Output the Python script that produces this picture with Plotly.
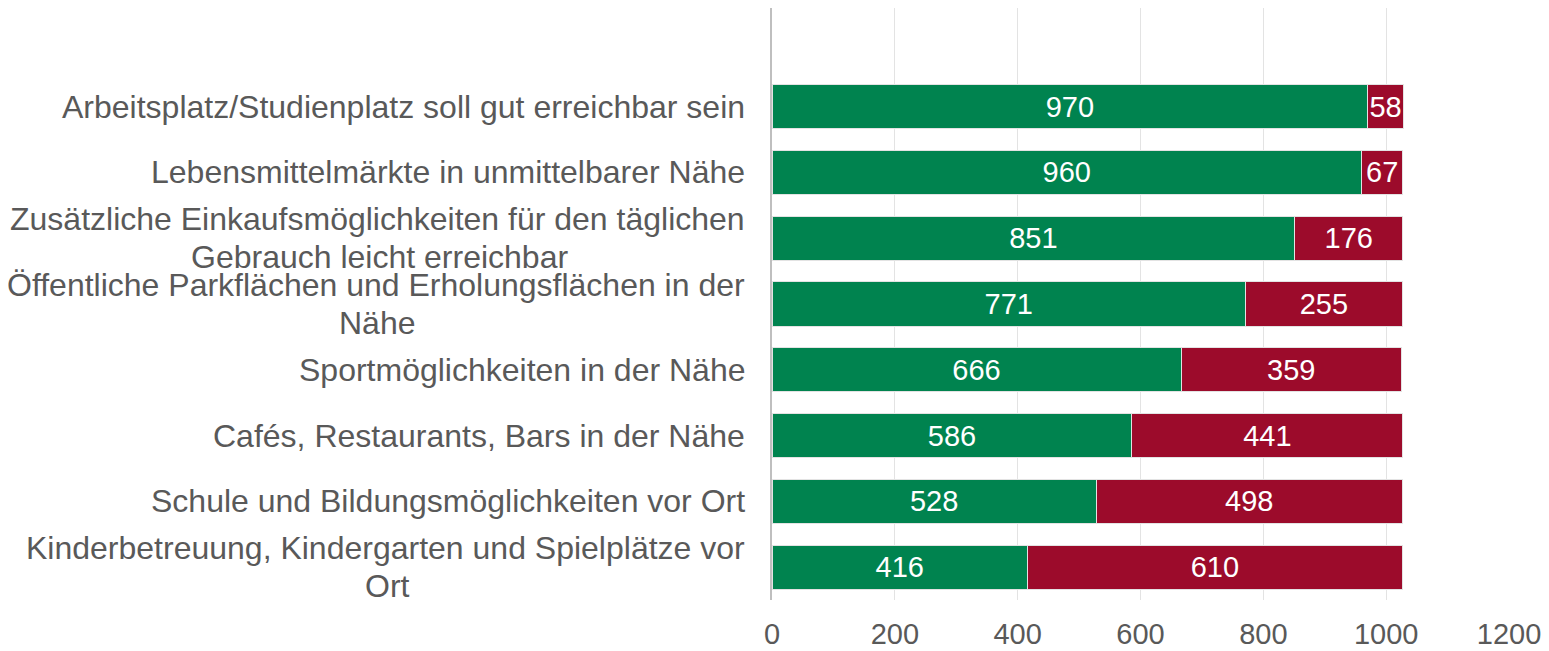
import plotly.graph_objects as go

categories = [
    "Arbeitsplatz/Studienplatz soll gut erreichbar sein",
    "Lebensmittelmärkte in unmittelbarer Nähe",
    "Zusätzliche Einkaufsmöglichkeiten für den täglichen<br>Gebrauch leicht erreichbar",
    "Öffentliche Parkflächen und Erholungsflächen in der<br>Nähe",
    "Sportmöglichkeiten in der Nähe",
    "Cafés, Restaurants, Bars in der Nähe",
    "Schule und Bildungsmöglichkeiten vor Ort",
    "Kinderbetreuung, Kindergarten und Spielplätze vor<br>Ort",
]
green_values = [970, 960, 851, 771, 666, 586, 528, 416]
red_values = [58, 67, 176, 255, 359, 441, 498, 610]
x_ticks = [0, 200, 400, 600, 800, 1000, 1200]

GREEN = "#00834F"
RED = "#9C0B2B"
FONT = "Liberation Sans, Arial, sans-serif"
GREY = "#595959"
LABEL_SIZE = 32

# Arial / Liberation Sans advance widths (per 1000 em) used to centre wrapped lines
_W = {
    "a": 556, "b": 556, "c": 500, "d": 556, "e": 556, "f": 278, "g": 556, "h": 556,
    "i": 222, "j": 222, "k": 500, "l": 222, "m": 833, "n": 556, "o": 556, "p": 556,
    "q": 556, "r": 333, "s": 500, "t": 278, "u": 556, "v": 500, "w": 722, "x": 500,
    "y": 500, "z": 500, "ä": 556, "ö": 556, "ü": 556, "é": 556,
    "A": 667, "B": 667, "C": 722, "D": 722, "E": 667, "F": 611, "G": 778, "H": 722,
    "I": 278, "J": 500, "K": 667, "L": 556, "M": 833, "N": 722, "O": 778, "P": 667,
    "Q": 778, "R": 722, "S": 667, "T": 611, "U": 722, "V": 667, "W": 944, "X": 667,
    "Y": 667, "Z": 611, "Ö": 778, " ": 278, "/": 278, ",": 278, ".": 278,
}


def text_width(s, size):
    return sum(_W.get(ch, 556) for ch in s) * size / 1000.0


fig = go.Figure()
for vals, col in [(green_values, GREEN), (red_values, RED)]:
    fig.add_trace(go.Bar(
        y=categories, x=vals, orientation="h",
        marker=dict(color=col, line=dict(color="#E3E3E3", width=1)),
        text=vals, textposition="inside", insidetextanchor="middle", textangle=0,
        textfont=dict(color="white", size=29, family=FONT),
        constraintext="none", cliponaxis=False, showlegend=False,
    ))

# category labels: wrapped lines centred under the first line
GAP = 25
LINE_H = 38
for c in categories:
    lines = c.split("<br>")
    n = len(lines)
    w0 = text_width(lines[0], LABEL_SIZE)
    for i, line in enumerate(lines):
        if i == 0:
            xa, xs = "right", -GAP
        else:
            xa, xs = "center", -GAP - w0 / 2.0
        fig.add_annotation(
            x=0, xref="paper", y=c, yref="y", text=line, showarrow=False,
            xanchor=xa, yanchor="middle",
            xshift=xs, yshift=((n - 1) / 2 - i) * LINE_H,
            font=dict(size=LABEL_SIZE, color=GREY, family=FONT),
        )

fig.update_layout(
    barmode="stack", bargap=0.33,
    width=1541, height=643,
    margin=dict(l=764, r=40, t=0, b=51),
    plot_bgcolor="white", paper_bgcolor="white",
    uniformtext=dict(minsize=29, mode="show"),
    font=dict(family=FONT, color=GREY),
    xaxis=dict(
        range=[0, 1200], tickvals=x_ticks, showgrid=True, gridcolor="#E3E3E3",
        gridwidth=1, zeroline=False, showline=False,
        tickfont=dict(size=29, color=GREY, family=FONT), ticks="",
        ticklabelstandoff=14,
    ),
    yaxis=dict(
        type="category", categoryarray=categories, range=[7.5, -1.5],
        showticklabels=False, showgrid=False, zeroline=False,
        showline=True, linecolor="#BFBFBF", linewidth=2,
    ),
)

fig.write_html("out.html")
